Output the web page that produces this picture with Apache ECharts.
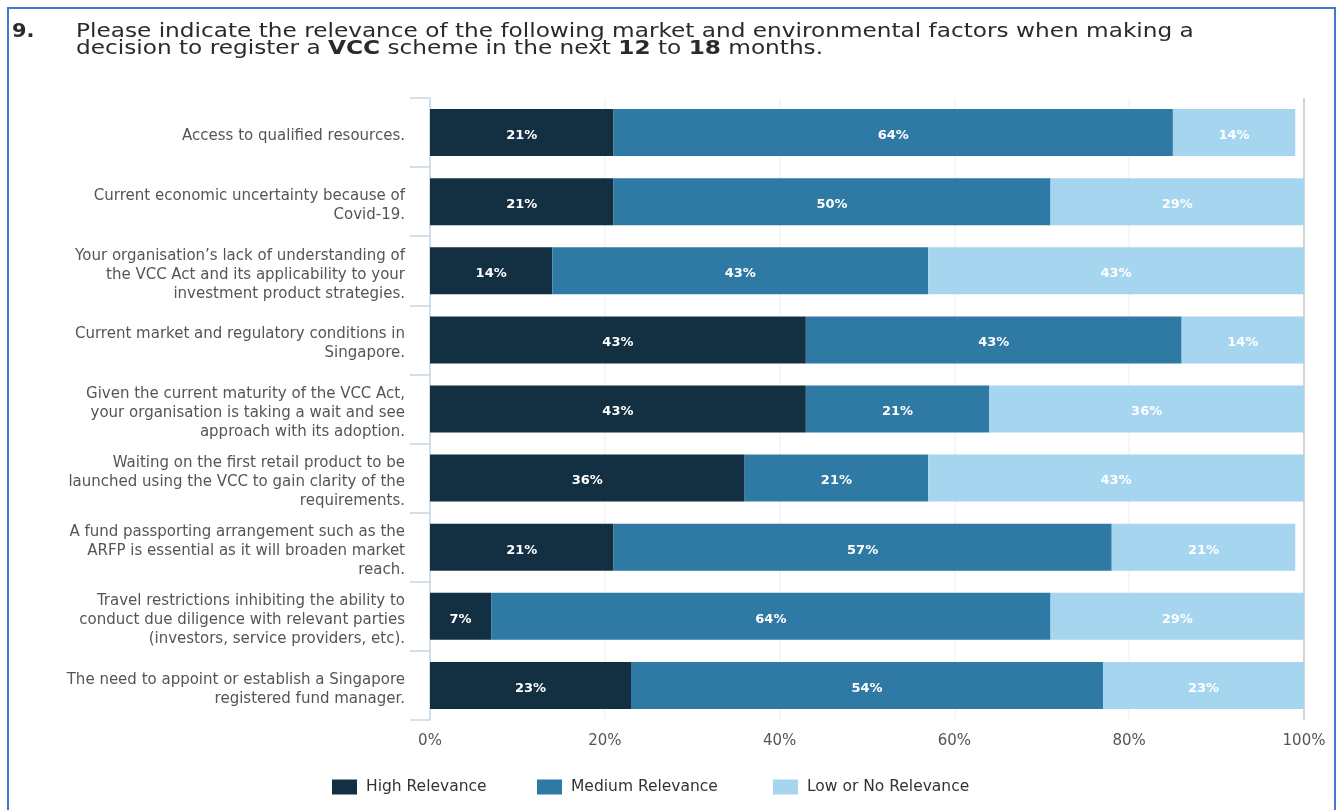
<!DOCTYPE html>
<html>
<head>
<meta charset="utf-8">
<script src="https://cdn.jsdelivr.net/npm/echarts@6/dist/echarts.min.js"></script>
<style>
  html, body { margin: 0; padding: 0; background: #fff; }
  #chart { position: absolute; left: 0; top: 0; width: 1342px; height: 810px; }
  .frame {
    position: absolute; left: 7px; top: 7px; width: 1325px; height: 900px;
    border: 2px solid #4a74d2; pointer-events: none;
  }
</style>
</head>
<body>
<div id="chart"></div>
<div class="frame"></div>
<script>
const categories = [
  'Access to qualified resources.',
  'Current economic uncertainty because of\nCovid-19.',
  'Your organisation\u2019s lack of understanding of\nthe VCC Act and its applicability to your\ninvestment product strategies.',
  'Current market and regulatory conditions in\nSingapore.',
  'Given the current maturity of the VCC Act,\nyour organisation is taking a wait and see\napproach with its adoption.',
  'Waiting on the first retail product to be\nlaunched using the VCC to gain clarity of the\nrequirements.',
  'A fund passporting arrangement such as the\nARFP is essential as it will broaden market\nreach.',
  'Travel restrictions inhibiting the ability to\nconduct due diligence with relevant parties\n(investors, service providers, etc).',
  'The need to appoint or establish a Singapore\nregistered fund manager.'
]
const highRelevance = [21, 21, 14, 43, 43, 36, 21, 7, 23]
const mediumRelevance = [64, 50, 43, 43, 21, 21, 57, 64, 54]
const lowRelevance = [14, 29, 43, 14, 36, 43, 21, 29, 23]
const xTicks = [0, 20, 40, 60, 80, 100]

const seriesNames = ['High Relevance', 'Medium Relevance', 'Low or No Relevance']
const colorList = ['#132f42', '#2f79a5', '#a6d5f0']
const legendLeft = [332, 537, 773]
const font = '"DejaVu Sans", "Noto Sans", sans-serif'

const chart = echarts.init(document.getElementById('chart'))

const barLabel = {
  show: true,
  position: 'inside',
  color: '#ffffff',
  fontFamily: font,
  fontSize: 13,
  fontWeight: 'bold',
  offset: [0, 3],
  formatter: '{c}%'
}

const option = {
  backgroundColor: '#ffffff',
  color: colorList,
  textStyle: { fontFamily: font },
  graphic: [
    {
      type: 'text',
      x: 12,
      y: 23,
      scaleX: 1.1,
      style: {
        text: '9.',
        fontFamily: font,
        fontSize: 19,
        fontWeight: 'bold',
        fill: '#2a2a2a',
        align: 'left',
        verticalAlign: 'top'
      }
    },
    {
      type: 'text',
      x: 76,
      y: 23,
      scaleX: 1.16,
      style: {
        text: 'Please indicate the relevance of the following market and environmental factors when making a\ndecision to register a {b|VCC} scheme in the next {b|12} to {b|18} months.',
        fontFamily: font,
        fontSize: 20,
        lineHeight: 17,
        fill: '#2a2a2a',
        align: 'left',
        verticalAlign: 'top',
        rich: {
          b: { fontFamily: font, fontSize: 20, fontWeight: 'bold', lineHeight: 17, fill: '#2a2a2a' }
        }
      }
    }
  ],
  legend: seriesNames.map((name, i) => ({
    data: [name],
    left: legendLeft[i],
    top: 779,
    padding: 0,
    itemWidth: 25,
    itemHeight: 15,
    itemGap: 0,
    icon: 'rect',
    textStyle: { fontFamily: font, fontSize: 15.5, color: '#333', padding: [0, 0, 0, 4] }
  })),
  grid: { left: 430, right: 38, top: 98, bottom: 90, containLabel: false },
  xAxis: {
    type: 'value',
    min: xTicks[0],
    max: xTicks[xTicks.length - 1],
    interval: 20,
    axisLine: { show: false },
    axisTick: { show: false },
    axisLabel: { color: '#555', fontSize: 15, fontFamily: font, margin: 14, formatter: '{value}%' },
    splitLine: {
      lineStyle: { color: ['#f3f3f3', '#f3f3f3', '#f3f3f3', '#f3f3f3', '#f3f3f3', '#c4c4c4'], width: 1.5 }
    }
  },
  yAxis: {
    type: 'category',
    inverse: true,
    data: categories,
    axisLine: { lineStyle: { color: '#c9d6e4', width: 1.5 } },
    axisTick: { show: true, length: 20, lineStyle: { color: '#c9d6e4', width: 1.5 } },
    axisLabel: {
      color: '#555',
      fontFamily: font,
      fontSize: 15,
      lineHeight: 19,
      margin: 25,
      align: 'right',
      // a small empty first line nudges the block down a few pixels
      formatter: (value) => '{s| }\n' + value,
      rich: {
        s: { fontSize: 4, lineHeight: 8, height: 8 }
      }
    }
  },
  series: [highRelevance, mediumRelevance, lowRelevance].map((values, i) => ({
    name: seriesNames[i],
    type: 'bar',
    stack: 'total',
    barWidth: 47,
    data: values,
    label: barLabel,
    itemStyle: { color: colorList[i] }
  }))
}

chart.setOption(option)
</script>
</body>
</html>
